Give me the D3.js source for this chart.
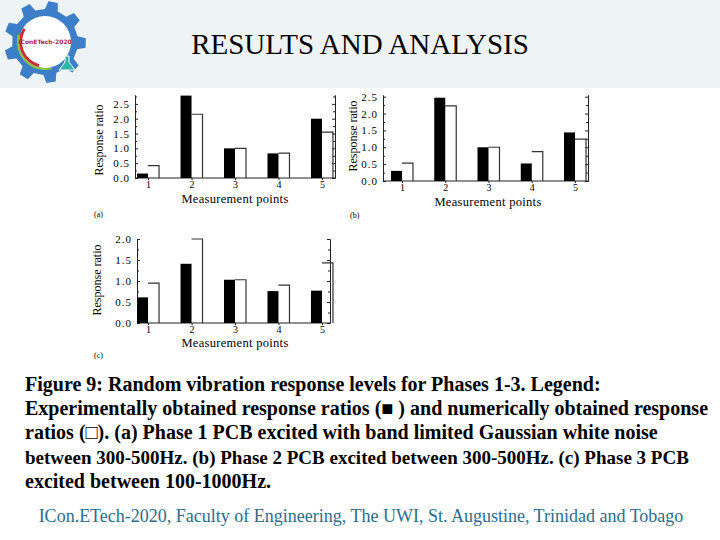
<!DOCTYPE html>
<html>
<head>
<meta charset="utf-8">
<script src="https://cdn.jsdelivr.net/npm/d3@7"></script>
<style>
  body { margin: 0; background: #fff; }
  svg { display: block; }
</style>
</head>
<body>
<script>
const W = 720, H = 540;
const serif = '"Liberation Serif", "Times New Roman", serif';

const points = [1, 2, 3, 4, 5];
const expA = [0.15, 2.78, 1.0, 0.83, 2.0];   // experimental, phase 1
const numA = [0.42, 2.15, 1.0, 0.84, 1.55];  // numerical, phase 1
const expB = [0.3, 2.47, 1.0, 0.52, 1.44];
const numB = [0.53, 2.23, 1.0, 0.87, 1.24];
const expC = [0.61, 1.41, 1.03, 0.76, 0.77];
const numC = [0.95, 2.0, 1.03, 0.9, 1.43];
const ticksAB = [0, 0.5, 1, 1.5, 2, 2.5];
const ticksC = [0, 0.5, 1, 1.5, 2];

const captionLines = [
  "Figure 9: Random vibration response levels for Phases 1-3. Legend:",
  "Experimentally obtained response ratios (\u25A0 ) and numerically obtained response",
  "ratios (\u25A1). (a) Phase 1 PCB excited with band limited Gaussian white noise",
  "between 300-500Hz. (b) Phase 2 PCB excited between 300-500Hz. (c) Phase 3 PCB",
  "excited  between 100-1000Hz."
];

const svg = d3.select("body").append("svg")
  .attr("width", W).attr("height", H);

// header band
svg.append("rect").attr("x", 0).attr("y", 0).attr("width", W).attr("height", 88)
  .attr("fill", "#eef4f6");

svg.append("text")
  .attr("x", 360).attr("y", 54)
  .attr("text-anchor", "middle")
  .attr("font-family", serif).attr("font-size", 29)
  .text("RESULTS AND ANALYSIS");

// logo: a gear with a ring
const logo = svg.append("g").attr("transform", "translate(45,42)");
const teeth = 9, rOut = 41, rIn = 33;
const gearPts = [];
for (let i = 0; i < teeth; i++) {
  const a0 = (i / teeth) * 2 * Math.PI;
  const s = (2 * Math.PI) / teeth;
  gearPts.push([a0, rIn], [a0 + s * 0.12, rOut], [a0 + s * 0.45, rOut], [a0 + s * 0.57, rIn]);
}
logo.append("path")
  .attr("d", d3.lineRadial().curve(d3.curveLinearClosed)(gearPts))
  .attr("fill", "#3d7ec8");
logo.append("circle").attr("r", 26).attr("fill", "#fff");
logo.append("path")
  .attr("d", d3.arc()({ innerRadius: 23, outerRadius: 26, startAngle: -2.9, endAngle: -1.0 }))
  .attr("fill", "#cf2d36");
logo.append("path")
  .attr("d", d3.arc()({ innerRadius: 26, outerRadius: 28, startAngle: -1.3, endAngle: -3.4 }))
  .attr("fill", "#8cc63f");
logo.append("path")
  .attr("d", "M20,14 L24,14 L24,20 L30,28 L14,28 L20,20 Z")
  .attr("fill", "#2fb5a8").attr("stroke", "#fff").attr("stroke-width", 1);
logo.append("text")
  .attr("x", 0).attr("y", 2).attr("text-anchor", "middle")
  .attr("font-family", "DejaVu Sans, sans-serif").attr("font-size", 6)
  .attr("font-weight", "bold").attr("fill", "#b8283a")
  .text("IConETech-2020");

// panels
const panels = [
  { exp: expA, num: numA, ticks: ticksAB, top: 2.8, base: 178, topY: 95,
    left: 135, right: 335, xr: [135, 335], tag: "(a)",
    ylab: [103, 140], xlab: [235, 203], tagPos: [94, 217] },
  { exp: expB, num: numB, ticks: ticksAB, top: 2.55, base: 181, topY: 95,
    left: 383, right: 588, xr: [389, 588], tag: "(b)",
    ylab: [357, 136], xlab: [488, 206], tagPos: [350, 218] },
  { exp: expC, num: numC, ticks: ticksC, top: 2.0, base: 323, topY: 239,
    left: 137, right: 330, xr: [135, 335], tag: "(c)",
    ylab: [101, 280], xlab: [235, 347], tagPos: [94, 358] }
];

const bw = 11;

function styleAxis(sel) {
  sel.attr("font-family", serif).attr("font-size", 11);
  sel.selectAll("line").attr("stroke", "#222");
  sel.selectAll("path").attr("stroke", "#222");
}

panels.forEach(p => {
  const y = d3.scaleLinear().domain([0, p.top]).range([p.base, p.topY]);
  const x = d3.scalePoint().domain(points).range(p.xr).padding(0.3);
  const g = svg.append("g");

  const minor = d3.range(0.25, p.top, 0.5);

  g.append("g").attr("transform", `translate(${p.left},0)`)
    .call(d3.axisLeft(y).tickValues(p.ticks).tickFormat(d3.format(".1f"))
      .tickSize(-3).tickSizeOuter(0).tickPadding(5))
    .call(styleAxis)
    .selectAll("text").attr("letter-spacing", 1);
  g.append("g").attr("transform", `translate(${p.left},0)`)
    .call(d3.axisLeft(y).tickValues(minor).tickFormat("").tickSize(-2).tickSizeOuter(0))
    .call(styleAxis);

  g.append("g").attr("transform", `translate(${p.right},0)`)
    .call(d3.axisRight(y).tickValues(p.ticks).tickFormat("").tickSize(-3).tickSizeOuter(0))
    .call(styleAxis);
  g.append("g").attr("transform", `translate(${p.right},0)`)
    .call(d3.axisRight(y).tickValues(minor).tickFormat("").tickSize(-2).tickSizeOuter(0))
    .call(styleAxis);

  const xAxis = g.append("g").attr("transform", `translate(0,${y(0)})`)
    .call(d3.axisBottom(x).tickSize(2).tickPadding(1))
    .call(styleAxis);
  xAxis.select(".domain").remove();
  xAxis.selectAll("text").attr("font-size", 10);

  g.append("line")
    .attr("x1", p.left).attr("x2", p.right)
    .attr("y1", y(0)).attr("y2", y(0))
    .attr("stroke", "#222");

  // experimental bars (filled)
  g.selectAll("rect.exp")
    .data(p.exp)
    .enter().append("rect")
    .attr("class", "exp")
    .attr("x", (d, i) => x(points[i]) - bw)
    .attr("y", d => y(d))
    .attr("width", bw)
    .attr("height", d => y(0) - y(d))
    .attr("fill", "#000");

  // numerical bars (open, top and right edge)
  g.selectAll("path.num")
    .data(p.num)
    .enter().append("path")
    .attr("class", "num")
    .attr("d", (d, i) => `M${x(points[i])},${y(d)}H${x(points[i]) + bw}V${y(0)}`)
    .attr("fill", "none")
    .attr("stroke", "#333")
    .attr("stroke-width", 1.2);

  g.append("text")
    .attr("transform", `translate(${p.ylab[0]},${p.ylab[1]}) rotate(-90)`)
    .attr("text-anchor", "middle")
    .attr("font-family", serif).attr("font-size", 12)
    .text("Response ratio");

  g.append("text")
    .attr("x", p.xlab[0]).attr("y", p.xlab[1])
    .attr("text-anchor", "middle")
    .attr("font-family", serif).attr("font-size", 12.5)
    .attr("letter-spacing", 0.3)
    .text("Measurement points");

  g.append("text")
    .attr("x", p.tagPos[0]).attr("y", p.tagPos[1])
    .attr("font-family", serif).attr("font-size", 8)
    .text(p.tag);
});

// caption
svg.append("g").selectAll("text")
  .data(captionLines)
  .enter().append("text")
  .attr("x", 25)
  .attr("y", (d, i) => 391 + i * 24.2)
  .attr("font-family", serif).attr("font-weight", "bold")
  .attr("font-size", (d, i) => i === 3 ? 19 : 20)
  .text(d => d);

svg.append("text")
  .attr("x", 361).attr("y", 522)
  .attr("text-anchor", "middle")
  .attr("font-family", serif).attr("font-size", 18)
  .attr("fill", "#2b6d8e")
  .text("ICon.ETech-2020, Faculty of Engineering, The UWI, St. Augustine, Trinidad and Tobago");
</script>
</body>
</html>
